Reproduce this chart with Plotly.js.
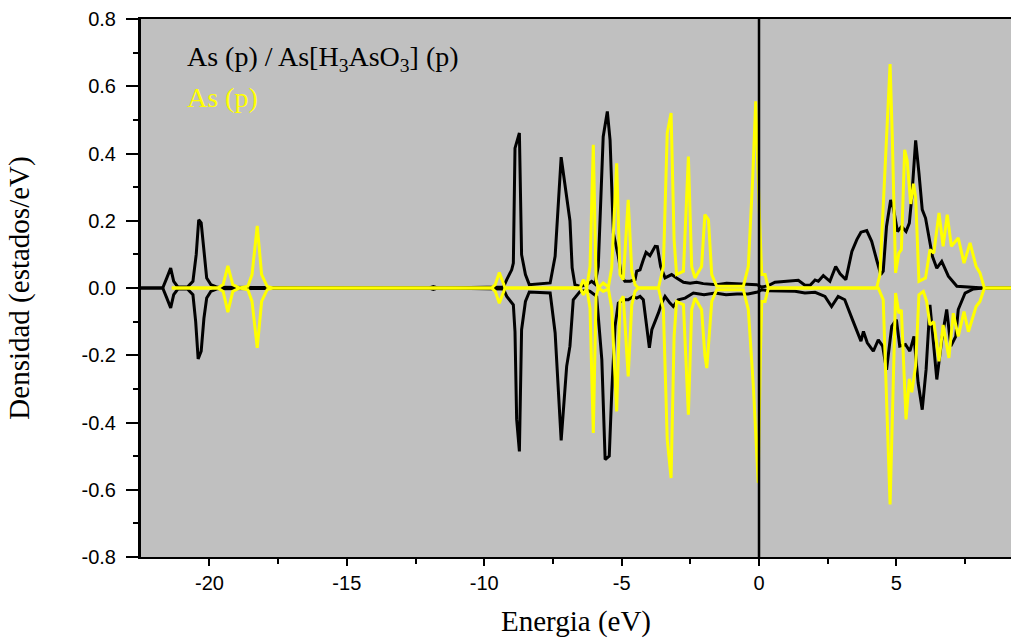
<!DOCTYPE html>
<html>
<head>
<meta charset="utf-8">
<script src="https://cdn.plot.ly/plotly-3.0.1.min.js"></script>
<style>
  html, body { margin: 0; padding: 0; background: #ffffff; }
  #chart { width: 1011px; height: 639px; }
</style>
</head>
<body>
<div id="chart"></div>
<script>
// ---- Data ----
// As (p) / As[H3AsO3] (p)  (black), upper branch
var blackUpE = [-22.49,-21.7,-21.55,-21.41,-21.3,-21.15,-20.8,-20.6,-20.48,-20.39,-20.3,-20.2,-20.1,-19.95,-19.7,
  -12.0,-11.85,-11.7,-9.3,-9.18,-9.0,-8.94,-8.88,-8.72,-8.64,-8.5,-8.36,-7.6,-7.42,-7.2,-7.0,-6.88,-6.8,-6.7,
  -6.51,-6.27,-6.09,-5.97,-5.85,-5.67,-5.52,-5.42,-5.30,-5.12,-5.0,-4.88,-4.69,-4.51,-4.45,-4.33,-4.21,-4.11,
  -3.97,-3.78,-3.70,-3.58,-3.42,-3.18,-3.0,-2.75,-2.51,-2.27,-2.03,-1.54,-1.18,-0.81,-0.45,-0.08,
  0.1,0.34,0.58,0.83,1.07,1.43,1.67,1.86,2.04,2.16,2.34,2.58,2.79,2.95,3.16,3.38,3.56,3.71,3.92,4.10,4.28,
  4.43,4.52,4.64,4.79,4.89,5.04,5.19,5.35,5.47,5.56,5.70,5.82,5.94,6.06,6.18,6.31,6.47,6.65,6.89,7.20,8.17,9.17];
var blackUpDOS = [0,0,0.03,0.059,0.02,0.003,0.003,0.02,0.1,0.203,0.194,0.1,0.03,0.01,0.002,
  0,0.004,0,0.003,0.025,0.054,0.074,0.416,0.461,0.099,0.04,0.01,0.015,0.094,0.389,0.27,0.2,0.06,0.01,
  0.005,0.01,0.02,0.012,0.064,0.45,0.525,0.44,0.163,0.094,0.035,0.02,0.02,0.025,0.05,0.054,0.084,0.106,
  0.096,0.124,0.123,0.064,0.03,0.04,0.03,0.017,0.014,0.017,0.013,0.01,0.014,0.012,0.01,0.01,
  0.003,0.007,0.017,0.019,0.019,0.023,0.008,0.008,0.024,0.02,0.037,0.02,0.064,0.042,0.025,0.109,0.144,0.166,0.171,0.139,0.084,
  0.04,0.05,0.183,0.262,0.237,0.168,0.183,0.168,0.193,0.272,0.439,0.342,0.233,0.208,0.153,0.094,0.059,0.079,0.035,0.005,0,0];

// black, lower branch
var blackDownE = [-22.49,-21.7,-21.55,-21.41,-21.3,-21.15,-20.8,-20.6,-20.5,-20.41,-20.3,-20.2,-20.1,-19.95,-19.7,
  -12.0,-11.85,-11.7,-9.3,-9.18,-8.94,-8.88,-8.82,-8.72,-8.64,-8.5,-8.36,-7.6,-7.42,-7.2,-7.0,-6.88,-6.76,
  -6.51,-6.27,-6.15,-5.91,-5.72,-5.60,-5.45,-5.36,-5.24,-5.12,-4.94,-4.76,-4.57,-4.45,-4.33,-4.21,-4.11,
  -3.99,-3.90,-3.78,-3.66,-3.54,-3.42,-3.24,-3.12,-2.94,-2.69,-2.39,-2.0,-1.6,-1.2,-0.8,-0.4,-0.05,
  0.1,0.34,0.83,1.31,1.67,2.04,2.40,2.64,2.88,3.12,3.40,3.71,3.80,3.94,4.16,4.34,4.50,4.64,4.83,5.0,
  5.12,5.33,5.49,5.64,5.79,5.94,6.08,6.22,6.47,6.65,6.83,6.98,7.16,7.25,7.50,7.80,8.17,9.17];
var blackDownDOS = [0,0,-0.03,-0.059,-0.02,-0.003,-0.003,-0.02,-0.1,-0.211,-0.188,-0.09,-0.03,-0.01,-0.002,
  0,-0.004,0,-0.003,-0.025,-0.05,-0.13,-0.39,-0.486,-0.124,-0.04,-0.012,-0.015,-0.133,-0.453,-0.233,-0.173,-0.035,
  -0.01,-0.007,-0.01,-0.025,-0.213,-0.51,-0.5,-0.312,-0.114,-0.045,-0.035,-0.035,-0.025,-0.03,-0.025,-0.035,-0.094,
  -0.178,-0.124,-0.1,-0.074,-0.045,-0.025,-0.045,-0.055,-0.035,-0.03,-0.015,-0.02,-0.015,-0.02,-0.018,-0.018,-0.012,
  -0.005,-0.008,-0.008,-0.01,-0.015,-0.013,-0.025,-0.055,-0.025,-0.035,-0.094,-0.158,-0.129,-0.163,-0.188,-0.154,-0.173,-0.243,-0.114,-0.094,
  -0.173,-0.168,-0.188,-0.144,-0.282,-0.362,-0.243,-0.05,-0.272,-0.154,-0.064,-0.173,-0.144,-0.064,-0.015,-0.003,0,0];

// As (p)  (yellow), upper branch
var yellowUpE = [-21.37,-19.7,-19.5,-19.33,-19.15,-18.9,-18.6,-18.45,-18.26,-18.1,-17.9,-17.7,
  -9.73,-9.6,-9.45,-9.3,-9.24,-6.51,-6.39,-6.27,-6.15,-6.03,-5.93,-5.85,-5.67,-5.48,-5.36,-5.18,-5.06,-4.94,
  -4.76,-4.63,-4.51,-4.39,-3.66,-3.48,-3.34,-3.20,-3.09,-3.0,-2.75,-2.57,-2.45,-2.33,-2.09,-1.97,-1.84,-1.72,
  -1.54,-0.57,-0.39,-0.23,-0.12,0.01,0.1,0.22,0.34,4.28,4.40,4.77,4.85,4.97,5.09,5.18,5.30,5.39,5.52,5.62,5.70,
  5.82,5.94,6.06,6.22,6.36,6.55,6.70,6.85,7.0,7.25,7.46,7.68,7.90,8.04,8.20,9.17];
var yellowUpDOS = [0,0,0.01,0.066,0.01,0,0.005,0.04,0.185,0.04,0.005,0,
  0,0.01,0.046,0.01,0,0,0.025,0,0.064,0.426,0.025,0,0.015,0.003,0.06,0.371,0.04,0.025,
  0.262,0.05,0.01,0,0,0.064,0.461,0.52,0.144,0.04,0.05,0.391,0.064,0.03,0.064,0.218,0.203,0.04,
  0.005,0.005,0.064,0.326,0.555,0.23,0.04,0.04,0,0,0.04,0.666,0.45,0.045,0.104,0.114,0.411,0.38,0.25,0.31,0.27,
  0.02,0.025,0.03,0.114,0.104,0.223,0.124,0.218,0.124,0.149,0.074,0.134,0.064,0.045,0,0];

// yellow, lower branch
var yellowDownE = [-21.37,-19.7,-19.5,-19.33,-19.15,-18.9,-18.6,-18.45,-18.26,-18.1,-17.9,-17.7,
  -9.73,-9.6,-9.45,-9.3,-9.24,-6.51,-6.39,-6.27,-6.15,-6.03,-5.93,-5.85,-5.67,-5.48,-5.36,-5.18,-5.06,-4.94,
  -4.76,-4.63,-4.51,-4.39,-3.66,-3.48,-3.34,-3.20,-3.09,-3.0,-2.75,-2.57,-2.45,-2.33,-2.09,-1.97,-1.90,-1.72,
  -1.54,-0.57,-0.39,-0.2,-0.03,0.05,0.1,0.22,0.34,4.34,4.52,4.77,4.89,4.97,5.09,5.18,5.35,5.47,5.56,5.70,
  5.82,5.98,6.10,6.22,6.36,6.55,6.70,6.91,7.07,7.25,7.46,7.62,7.90,8.04,8.20,9.17];
var yellowDownDOS = [0,0,-0.01,-0.072,-0.01,0,-0.005,-0.04,-0.178,-0.04,-0.005,0,
  0,-0.01,-0.045,-0.01,0,0,-0.02,0,-0.06,-0.431,-0.025,0,-0.01,-0.003,-0.06,-0.367,-0.04,-0.025,
  -0.263,-0.05,-0.01,0,0,-0.064,-0.45,-0.565,-0.144,-0.04,-0.05,-0.377,-0.064,-0.03,-0.064,-0.2,-0.238,-0.04,
  -0.005,-0.005,-0.064,-0.3,-0.58,-0.2,-0.04,-0.04,0,0,-0.035,-0.644,-0.28,-0.015,-0.075,-0.065,-0.391,-0.27,-0.31,-0.23,
  -0.02,-0.01,-0.04,-0.11,-0.1,-0.218,-0.11,-0.208,-0.075,-0.144,-0.07,-0.13,-0.055,-0.04,0,0];

// Axis ticks and labels
var xTickVals = [-20, -15, -10, -5, 0, 5];
var xTickText = ['-20', '-15', '-10', '-5', '0', '5'];
var yTickVals = [-0.8, -0.6, -0.4, -0.2, 0, 0.2, 0.4, 0.6, 0.8];
var yTickText = ['-0.8', '-0.6', '-0.4', '-0.2', '0.0', '0.2', '0.4', '0.6', '0.8'];

var seriesNames = ['As (p) / As[H3AsO3] (p)', 'As (p)'];
var legendTexts = ['As (p) / As[H<sub>3</sub>AsO<sub>3</sub>] (p)', 'As (p)'];

// ---- Chart ----
var BLACK = '#000000', YELLOW = '#FFFF00';
var lw = 3;
function tr(x, y, color, name) {
  return { x: x, y: y, type: 'scatter', mode: 'lines', name: name,
           line: { color: color, width: lw, shape: 'linear' }, hoverinfo: 'skip' };
}
var data = [
  tr(blackUpE, blackUpDOS, BLACK, seriesNames[0]),
  tr(blackDownE, blackDownDOS, BLACK, seriesNames[0]),
  tr(yellowUpE, yellowUpDOS, YELLOW, seriesNames[1]),
  tr(yellowDownE, yellowDownDOS, YELLOW, seriesNames[1])
];

var serif = 'Liberation Serif, Times New Roman, serif';
var sans = 'Liberation Sans, Arial, sans-serif';

var layout = {
  width: 1011, height: 639,
  margin: { l: 141, r: 0, t: 19, b: 82 },
  paper_bgcolor: '#ffffff',
  plot_bgcolor: '#C0C0C0',
  showlegend: false,
  xaxis: {
    range: [-22.49, 9.17],
    tickmode: 'array', tickvals: xTickVals, ticktext: xTickText,
    ticks: 'outside', ticklen: 7, tickwidth: 2, tickcolor: BLACK,
    showline: true, linewidth: 2, linecolor: BLACK, mirror: true,
    showgrid: false, zeroline: false,
    minor: { tickmode: 'linear', tick0: 0, dtick: 2.5, ticks: 'outside', ticklen: 5, tickwidth: 2, tickcolor: BLACK, showgrid: false },
    tickfont: { family: sans, size: 20, color: BLACK },
    title: { text: 'Energia (eV)', font: { family: serif, size: 29, color: BLACK }, standoff: 18 }
  },
  yaxis: {
    range: [-0.8, 0.8],
    tickmode: 'array', tickvals: yTickVals, ticktext: yTickText,
    ticks: 'outside', ticklen: 12, tickwidth: 2, tickcolor: BLACK,
    showline: true, linewidth: 3, linecolor: BLACK, mirror: false,
    showgrid: false, zeroline: false,
    minor: { tickmode: 'linear', tick0: 0, dtick: 0.1, ticks: 'outside', ticklen: 5, tickwidth: 2, tickcolor: BLACK, showgrid: false },
    tickfont: { family: sans, size: 20, color: BLACK },
    ticklabelstandoff: 6,
    title: { text: 'Densidad (estados/eV)', font: { family: serif, size: 29, color: BLACK }, standoff: 44 }
  },
  shapes: [
    { type: 'line', xref: 'x', yref: 'paper', x0: 0, x1: 0, y0: 0, y1: 1,
      line: { color: BLACK, width: 2.5 }, layer: 'above' }
  ],
  annotations: [
    { text: legendTexts[0], xref: 'paper', yref: 'paper', x: 0.051, y: 0.927,
      xanchor: 'left', yanchor: 'middle', showarrow: false,
      font: { family: serif, size: 28, color: BLACK } },
    { text: legendTexts[1], xref: 'paper', yref: 'paper', x: 0.051, y: 0.855,
      xanchor: 'left', yanchor: 'middle', showarrow: false,
      font: { family: serif, size: 28, color: YELLOW } }
  ]
};

Plotly.newPlot('chart', data, layout, { staticPlot: true, displayModeBar: false });
</script>
</body>
</html>
